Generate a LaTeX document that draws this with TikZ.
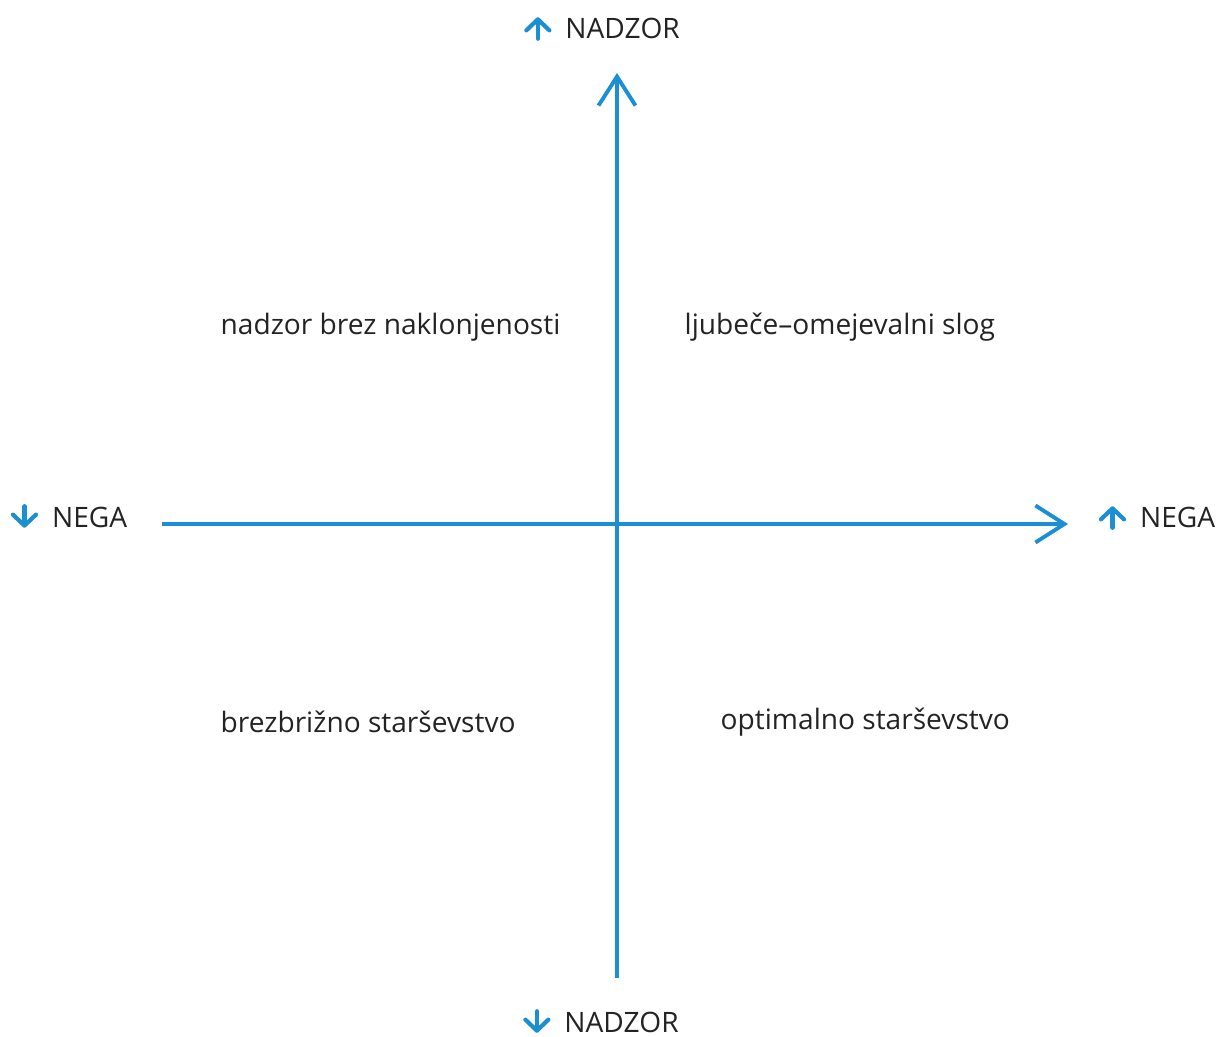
\documentclass[tikz,border=0pt]{standalone}
\usepackage{fontspec}
\setmainfont{Open Sans}
\usetikzlibrary{positioning,arrows.meta}
\usepackage{xcolor}
\definecolor{axisblue}{RGB}{27,142,212}
\definecolor{labelgray}{RGB}{35,35,35}
\tikzset{
  markarrow/.style = {draw=axisblue, line width=1.2pt, line cap=round,
    -{Straight Barb[length=1.1mm,width=2.3mm,round]}}
}
\newcommand{\upmark}{\tikz[baseline=0pt]\draw[markarrow] (0,0) -- (0,0.215);}
\newcommand{\downmark}{\tikz[baseline=0pt]\draw[markarrow] (0,0.215) -- (0,0);}

\begin{document}
\begin{tikzpicture}[
  every node/.style = {align=center, text=labelgray, inner sep=0pt,
    font=\fontsize{8}{10}\selectfont},
  axis/.style = {draw=axisblue, line width=1.1pt,
    -{Straight Barb[length=2.9mm,width=3.7mm]}}
]
  \useasboundingbox (0,0) rectangle (12.24,10.36);
  \coordinate (o) at (6.17,5.12);
  \coordinate (nadzorhi) at (6.17,9.63);
  \coordinate (nadzorlo) at (6.17,0.58);
  \coordinate (negalo) at (1.62,5.12);
  \coordinate (negahi) at (10.68,5.12);
  \draw[axis] (nadzorlo) -- (nadzorhi);
  \draw[axis] (negalo) -- (negahi);
  % axis ends
  \node (labnadzorhi) at (6.02,10.08) {\upmark\hspace{1.4mm}NADZOR};
  \node (labnadzorlo) at (6.01,0.14) {\downmark\hspace{1.4mm}NADZOR};
  \node (labnegalo) at (0.69,5.19) {\downmark\hspace{1.4mm}NEGA};
  \node (labnegahi) at (11.57,5.19) {\upmark\hspace{1.4mm}NEGA};
  % quadrants
  \node[anchor=west] (nobond) at (2.20,7.09) {nadzor brez naklonjenosti};
  \node[anchor=west] (loving) at (6.84,7.09) {ljubeče–omejevalni slog};
  \node[anchor=west] (careless) at (2.20,3.14) {brezbrižno starševstvo};
  \node[anchor=west] (optimal) at (7.20,3.14) {optimalno starševstvo};
\end{tikzpicture}
\end{document}
